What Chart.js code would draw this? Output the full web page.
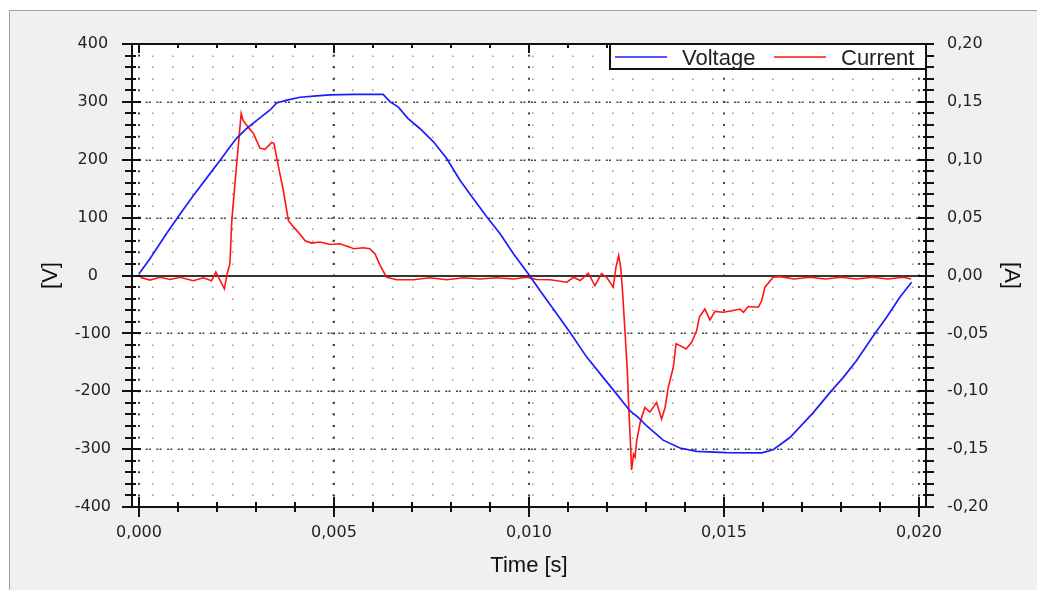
<!DOCTYPE html>
<html>
<head>
<meta charset="utf-8">
<script src="https://cdn.jsdelivr.net/npm/chart.js@4.4.1/dist/chart.umd.min.js"></script>
<style>
  html, body { margin: 0; padding: 0; background: #fff; }
  #wrap { position: relative; width: 1037px; height: 590px; overflow: hidden; }
  #panel { position: absolute; left: 9px; top: 10px; width: 1100px; height: 700px; background: #f0f0f0; border: 1px solid #a0a0a0; }
  #scope { position: absolute; left: 0; top: 0; }
</style>
</head>
<body>
<div id="wrap">
  <div id="panel"></div>
  <canvas id="scope" width="1037" height="590"></canvas>
</div>
<script>
// tick labels / scale steps
const timeTicks = [0, 0.005, 0.010, 0.015, 0.020];
const voltTicks = [-400, -300, -200, -100, 0, 100, 200, 300, 400];
const ampTicks = [-0.2, -0.15, -0.1, -0.05, 0, 0.05, 0.1, 0.15, 0.2];

// voltage trace [s] / [V]
const voltageTime = [
  0, 0.00028, 0.00071, 0.00105, 0.00139, 0.00182, 0.00208, 0.00233, 0.0025, 0.00276,
  0.00302, 0.00336, 0.00353, 0.00379, 0.00413, 0.00456, 0.0049, 0.0055, 0.006, 0.00626,
  0.00644, 0.00665, 0.0069, 0.0072, 0.00755, 0.00789, 0.00823, 0.00857, 0.00892, 0.00926,
  0.0096, 0.00998, 0.01028, 0.01054, 0.01105, 0.01148, 0.0119, 0.01225, 0.01259, 0.0128,
  0.01302, 0.01344, 0.01387, 0.0143, 0.01507, 0.01597, 0.01626, 0.01669, 0.01729, 0.01772,
  0.01806, 0.0184, 0.01883, 0.01917, 0.01951, 0.01981
];
const voltageValues = [
  3, 29, 73, 106, 138, 176, 199, 222, 237, 254,
  268, 286, 298, 303, 308, 310.5, 312, 313, 313, 313,
  300, 291, 271, 254, 231, 202, 164.5, 133, 101, 72,
  37.6, 3, -26, -50, -98, -141, -176, -205, -234, -245,
  -260, -284.5, -298, -304, -306, -306.5, -301, -280, -237, -202,
  -176, -147, -104, -72, -37.6, -11.5
];

// current trace [s] / [A]
const currentTime = [
  0.00003, 0.00028, 0.00054, 0.0008, 0.00105, 0.00139, 0.00165, 0.00186, 0.00197, 0.00206,
  0.00219, 0.00226, 0.00233, 0.00238, 0.00249, 0.00262, 0.00267, 0.0028, 0.00293, 0.0031,
  0.00323, 0.0034, 0.00346, 0.00357, 0.0037, 0.00383, 0.00396, 0.00408, 0.00426, 0.00443,
  0.00464, 0.0049, 0.00515, 0.00541, 0.0055, 0.00575, 0.00592, 0.00605, 0.00618, 0.00635,
  0.00661, 0.00703, 0.00746, 0.00789, 0.00832, 0.00874, 0.00917, 0.0096, 0.00994, 0.0102,
  0.01054, 0.01097, 0.01114, 0.01131, 0.01152, 0.01169, 0.01186, 0.01199, 0.01216, 0.01223,
  0.0123, 0.01235, 0.0124, 0.01246, 0.01252, 0.01257, 0.01261, 0.01263, 0.01268, 0.01272,
  0.01276, 0.01285, 0.01297, 0.0131, 0.01327, 0.0134, 0.01349, 0.01357, 0.0137, 0.01377,
  0.01387, 0.01403, 0.01417, 0.0143, 0.01437, 0.01451, 0.01464, 0.01477, 0.01498, 0.01524,
  0.01541, 0.0155, 0.01562, 0.01588, 0.01597, 0.01605, 0.01626, 0.01644, 0.0168, 0.0172,
  0.0176, 0.018, 0.0184, 0.0188, 0.0192, 0.0196, 0.0198
];
const currentValues = [
  -0.0015, -0.004, -0.0015, -0.0035, -0.0015, -0.0045, -0.002, -0.0045, 0.003, -0.003,
  -0.0115, 0.0015, 0.010, 0.0476, 0.091, 0.140, 0.134, 0.128, 0.123, 0.110,
  0.109, 0.115, 0.114, 0.095, 0.0736, 0.0476, 0.042, 0.0375, 0.030, 0.028,
  0.0289, 0.0268, 0.0274, 0.0245, 0.0231, 0.024, 0.0231, 0.0188, 0.0087, -0.0015,
  -0.0037, -0.0037, -0.002, -0.0037, -0.002, -0.003, -0.002, -0.003, -0.0015, -0.0035,
  -0.0037, -0.0058, -0.0015, -0.0043, 0.002, -0.0087, 0.0015, -0.0015, -0.010, 0.0072,
  0.0173, 0.0072, -0.0145, -0.0476, -0.082, -0.1227, -0.1515, -0.168, -0.1544, -0.157,
  -0.143, -0.127, -0.114, -0.118, -0.1097, -0.124, -0.114, -0.0967, -0.0794, -0.059,
  -0.0606, -0.0635, -0.0577, -0.0476, -0.036, -0.0289, -0.0384, -0.031, -0.0318, -0.0303,
  -0.029, -0.0318, -0.0268, -0.0274, -0.0216, -0.0101, -0.0015, -0.001, -0.003, -0.0015,
  -0.003, -0.0015, -0.003, -0.0015, -0.003, -0.0015, -0.003
];

const tickFont = { family: "'DejaVu Sans', sans-serif", size: 16 };
const titleFont = { family: "'Liberation Sans', Arial, sans-serif", size: 22 };

// frame, dotted grid, cross ticks, legend box (scope style)
const scopeFrame = {
  id: "scopeFrame",
  beforeDraw(chart) {
    const { ctx, chartArea: a } = chart;
    ctx.save();
    ctx.fillStyle = "#fff";
    ctx.fillRect(a.left, a.top, a.right - a.left, a.bottom - a.top);
    ctx.restore();
  },
  beforeDatasetsDraw(chart) {
    const { ctx, chartArea: a, scales: { x, y } } = chart;
    ctx.save();
    // minor rows: grey dots every 20 V
    ctx.fillStyle = "#9a9a9a";
    for (let v = -380; v < 400; v += 20) {
      if (v % 100 === 0) continue;
      const py = Math.round(y.getPixelForValue(v));
      for (let px = a.left + 20; px < a.right - 2; px += 20) ctx.fillRect(px, py - 0.5, 1.5, 1.5);
    }
    // major rows: paired dots
    ctx.strokeStyle = "#404040";
    ctx.lineWidth = 1.5;
    ctx.setLineDash([2, 1.2, 2, 5.5]);
    [-300, -200, -100, 100, 200, 300].forEach((v) => {
      const py = Math.round(y.getPixelForValue(v)) + 0.25;
      ctx.beginPath();
      ctx.moveTo(a.left + 3, py);
      ctx.lineTo(a.right, py);
      ctx.stroke();
    });
    ctx.setLineDash([]);
    // major columns: dots on every minor row
    ctx.fillStyle = "#404040";
    timeTicks.forEach((t) => {
      const px = Math.round(x.getPixelForValue(t));
      for (let v = -380; v < 400; v += 20) {
        const py = y.getPixelForValue(v);
        ctx.fillRect(px - 1, py - 1, 2, 2);
      }
    });
    // zero line
    const y0 = Math.round(y.getPixelForValue(0));
    ctx.strokeStyle = "#353535";
    ctx.lineWidth = 2;
    ctx.beginPath();
    ctx.moveTo(a.left, y0);
    ctx.lineTo(a.right, y0);
    ctx.stroke();
    ctx.restore();
  },
  afterDatasetsDraw(chart) {
    const { ctx, chartArea: a, scales: { x, y } } = chart;
    ctx.save();
    ctx.strokeStyle = "#111";
    ctx.lineWidth = 2;
    ctx.strokeRect(a.left, a.top, a.right - a.left, a.bottom - a.top);

    const line = (x1, y1, x2, y2) => {
      ctx.beginPath();
      ctx.moveTo(x1, y1);
      ctx.lineTo(x2, y2);
      ctx.stroke();
    };
    // left / right axis ticks
    for (let v = -400; v <= 400; v += 20) {
      const py = Math.round(y.getPixelForValue(v));
      if (v % 100 === 0) {
        line(a.left - 10, py, a.left + 9, py);
        line(a.right - 8, py, a.right + 8, py);
      } else {
        line(a.left - 7, py, a.left + 4, py);
        line(a.right - 3, py, a.right + 8, py);
      }
    }
    // bottom / top axis ticks
    for (let i = 0; i <= 20; i++) {
      const t = i * 0.001;
      const px = Math.round(x.getPixelForValue(t));
      if (i % 5 === 0) {
        line(px, a.bottom - 10, px, a.bottom + 10);
        line(px, a.top, px, a.top + 9);
      } else {
        line(px, a.bottom - 5, px, a.bottom + 5);
        line(px, a.top, px, a.top + 4);
      }
    }
    ctx.restore();
  },
  afterDraw(chart) {
    // legend drawn inside the plot, top right
    const { ctx, chartArea: a } = chart;
    const sets = chart.data.datasets;
    const boxL = a.right - 316, boxT = a.top, boxH = 25;
    ctx.save();
    ctx.fillStyle = "#fff";
    ctx.fillRect(boxL, boxT, a.right - boxL, boxH);
    ctx.strokeStyle = "#111";
    ctx.lineWidth = 2;
    ctx.strokeRect(boxL, boxT, a.right - boxL, boxH);
    ctx.font = `${titleFont.size}px ${titleFont.family}`;
    ctx.textBaseline = "alphabetic";
    const slots = [boxL + 5, boxL + 164];
    sets.forEach((ds, i) => {
      const sx = slots[i];
      ctx.strokeStyle = ds.borderColor;
      ctx.lineWidth = 1.5;
      ctx.beginPath();
      ctx.moveTo(sx, boxT + 13);
      ctx.lineTo(sx + 52, boxT + 13);
      ctx.stroke();
      ctx.fillStyle = "#222";
      ctx.fillText(ds.label, sx + 67, boxT + 21);
    });
    ctx.restore();
  }
};

new Chart(document.getElementById("scope"), {
  type: "line",
  data: {
    datasets: [
      {
        label: "Voltage",
        data: voltageTime.map((t, i) => ({ x: t, y: voltageValues[i] })),
        yAxisID: "y",
        borderColor: "#1c1cff",
        borderWidth: 1.7,
        pointRadius: 0,
        tension: 0
      },
      {
        label: "Current",
        data: currentTime.map((t, i) => ({ x: t, y: currentValues[i] })),
        yAxisID: "y1",
        borderColor: "#ff1414",
        borderWidth: 1.6,
        pointRadius: 0,
        tension: 0
      }
    ]
  },
  options: {
    responsive: false,
    animation: false,
    layout: { padding: { top: 44, left: 0, right: 0, bottom: 0 } },
    plugins: {
      legend: { display: false },
      tooltip: { enabled: false }
    },
    scales: {
      x: {
        type: "linear",
        min: -0.00018,
        max: 0.02018,
        afterBuildTicks: (s) => { s.ticks = timeTicks.map((v) => ({ value: v })); },
        afterFit: (s) => { s.height = 83; },
        grid: { display: false, drawTicks: false },
        border: { display: false },
        ticks: {
          font: tickFont,
          color: "#222",
          padding: 16,
          maxRotation: 0,
          autoSkip: false,
          callback: (v) => Number(v).toFixed(3).replace(".", ",")
        },
        title: { display: true, text: "Time [s]", font: titleFont, color: "#111", padding: { top: 0, bottom: 11 } }
      },
      y: {
        position: "left",
        min: -400,
        max: 400,
        afterBuildTicks: (s) => { s.ticks = voltTicks.map((v) => ({ value: v })); },
        afterFit: (s) => { s.width = 132; },
        grid: { display: false, drawTicks: false },
        border: { display: false },
        ticks: {
          font: tickFont,
          color: "#222",
          padding: 21,
          crossAlign: "center",
          callback: (v) => String(v)
        },
        title: { display: true, text: "[V]", font: titleFont, color: "#111", padding: { top: 38, bottom: 0 } }
      },
      y1: {
        position: "right",
        min: -0.2,
        max: 0.2,
        afterBuildTicks: (s) => { s.ticks = ampTicks.map((v) => ({ value: v })); },
        afterFit: (s) => { s.width = 111; },
        grid: { display: false, drawTicks: false },
        border: { display: false },
        ticks: {
          font: tickFont,
          color: "#222",
          padding: 21,
          callback: (v) => Number(v).toFixed(2).replace(".", ",")
        },
        title: { display: true, text: "[A]", font: titleFont, color: "#111", padding: { top: 13, bottom: 0 } }
      }
    }
  },
  plugins: [scopeFrame]
});
</script>
</body>
</html>
